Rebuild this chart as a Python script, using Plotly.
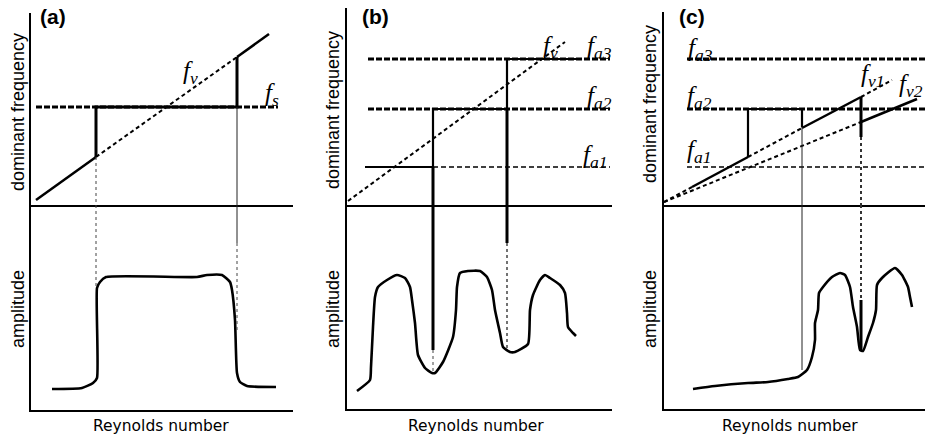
import plotly.graph_objects as go

W, H = 925, 439

# ---------------- data (arbitrary units) ----------------
# Panel (a)
a_fv_re = [5, 65, 206, 238]
a_fv = [5, 48, 148, 171]
a_fv_style = ["solid", "dash", "solid"]
a_fs_re = [5, 247]
a_fs = [98, 98]
a_step_re = [65, 65, 206, 206]
a_step_f = [48, 98, 98, 148]
a_amp_re = [21, 51, 62, 66, 66, 69, 75, 166, 176, 191, 199, 201, 204, 206, 209, 216, 245]
a_amp = [21, 22, 27, 32, 122, 128, 133, 133, 135, 135, 128, 120, 90, 37, 28, 24, 23]

# Panel (b)
b_fv_re = [1, 218]
b_fv = [4, 163]
b_fa3_re = [21, 263]
b_fa3 = [146, 146]
b_fa2_re = [21, 263]
b_fa2 = [96, 96]
b_fa1_re = [86, 263]
b_fa1 = [38, 38]
b_step_re = [18, 86, 86, 160, 160, 230]
b_step_f = [38, 38, 96, 96, 146, 146]
b_amp_re = [10, 23, 24, 26, 28, 31, 40, 50, 58, 63, 65, 68, 71, 78, 85, 88, 96, 106, 109, 110,
            113, 121, 133, 140, 145, 148, 153, 156, 163, 168, 181, 183, 186, 193, 198, 203, 213,
            218, 220, 221, 226, 229]
b_amp = [18, 29, 42, 82, 112, 122, 129, 134, 131, 122, 109, 86, 54, 41, 36, 36, 47, 72, 99, 122,
         136, 138, 138, 132, 119, 99, 76, 62, 57, 57, 65, 99, 114, 129, 134, 131, 124,
         116, 96, 82, 76, 73]

# Panel (c)
c_fv1_re = [0, 28, 84, 138, 197, 228]
c_fv1 = [3, 18, 48, 77, 108, 125]
c_fv1_style = ["dash", "solid", "dash", "solid", "dash"]
c_fv2_re = [0, 197, 253]
c_fv2 = [3, 83, 106]
c_fv2_style = ["dash", "solid"]
c_fa3_re = [23, 261]
c_fa3 = [146, 146]
c_fa2_re = [23, 261]
c_fa2 = [96, 96]
c_fa1_re = [23, 261]
c_fa1 = [38, 38]
c_step_re = [84, 84, 138, 138]
c_step_f = [48, 96, 96, 78]
c_amp_re = [29, 51, 84, 104, 124, 134, 143, 148, 151, 151, 154, 155, 159, 168, 176, 181, 186,
            189, 193, 196, 199, 204, 209, 212, 213, 218, 231, 238, 244, 246, 248]
c_amp = [20, 23, 26, 27, 30, 32, 39, 52, 69, 86, 99, 116, 122, 132, 136, 134, 122,
         102, 82, 59, 58, 72, 86, 99, 124, 131, 141, 134, 122, 112, 102]

# vertical connector segments: (panel, row, Re, from, to, width, dash, colour)
connectors = [
    ("a", "f", 65, 48, 0, 1, "dot", "#444"),
    ("a", "amp", 65, 205, 122, 1, "dot", "#444"),
    ("a", "f", 206, 98, 0, 1, "solid", "#222"),
    ("a", "amp", 206, 205, 167, 1, "solid", "#222"),
    ("a", "amp", 206, 167, 77, 1, "dot", "#444"),
    ("b", "f", 86, 38, 0, 3, "solid", "black"),
    ("b", "amp", 86, 204, 59, 3, "solid", "black"),
    ("b", "amp", 86, 59, 36, 1, "dot", "#444"),
    ("b", "f", 160, 96, 0, 3, "solid", "black"),
    ("b", "amp", 160, 204, 166, 3, "solid", "black"),
    ("b", "amp", 160, 166, 59, 1.5, "dot", "#444"),
    ("c", "f", 138, 78, 0, 1, "solid", "#222"),
    ("c", "amp", 138, 204, 39, 1, "solid", "#222"),
    ("c", "f", 197, 108, 68, 3, "solid", "black"),
    ("c", "f", 197, 68, 0, 2, "dot", "#333"),
    ("c", "amp", 197, 204, 109, 2, "dot", "#333"),
    ("c", "amp", 197, 109, 59, 3, "solid", "black"),
]

# symbol labels: (panel, Re, freq, base, subscript)
symbols = [
    ("a", 159, 132, "f", "v"),
    ("a", 241, 110, "f", "s"),
    ("b", 203, 157, "f", "v"),
    ("b", 252, 157, "f", "a3"),
    ("b", 252, 107, "f", "a2"),
    ("b", 248, 49, "f", "a1"),
    ("c", 36, 155, "f", "a3"),
    ("c", 35, 107, "f", "a2"),
    ("c", 35, 54, "f", "a1"),
    ("c", 208, 129, "f", "v1"),
    ("c", 247, 119, "f", "v2"),
]

# ---------------- layout geometry ----------------
panels = {
    # left px, right px, top px, mid px, bottom px
    "a": (31, 293, 13, 205, 410),
    "b": (347, 612, 8, 205, 409),
    "c": (664, 925, 12, 205, 409),
}
axis_ids = {"a": (1, 2), "b": (3, 4), "c": (5, 6)}

fig = go.Figure()
layout = {}


def ax_name(i):
    return "" if i == 1 else str(i)


for p, (l, r, t, m, b) in panels.items():
    it, ib = axis_ids[p]
    xd = [l / W, min(r / W, 1.0)]
    common = dict(showline=True, linecolor="black", linewidth=2.2, showgrid=False,
                  zeroline=False, showticklabels=False, ticks="", fixedrange=True)
    layout["xaxis" + ax_name(it)] = dict(domain=xd, range=[0, r - l], anchor="y" + ax_name(it), **common)
    layout["yaxis" + ax_name(it)] = dict(domain=[1 - m / H, 1 - t / H], range=[0, m - t],
                                        anchor="x" + ax_name(it), **common)
    layout["xaxis" + ax_name(ib)] = dict(domain=xd, range=[0, r - l], anchor="y" + ax_name(ib), **common)
    layout["yaxis" + ax_name(ib)] = dict(domain=[1 - b / H, 1 - m / H], range=[0, b - m],
                                        anchor="x" + ax_name(ib), **common)


def axes(p, row):
    it, ib = axis_ids[p]
    i = it if row == "f" else ib
    return "x" + ax_name(i), "y" + ax_name(i)


def line(p, row, x, y, width=2, dash="solid", color="black", shape="linear"):
    xa, ya = axes(p, row)
    ln = dict(color=color, width=width, dash=dash, shape=shape)
    if shape == "spline":
        ln["smoothing"] = 0.5
    fig.add_trace(go.Scatter(x=x, y=y, mode="lines", xaxis=xa, yaxis=ya,
                             line=ln, hoverinfo="skip", showlegend=False))


def segmented(p, xs, ys, styles, width_solid=2.5, width_dash=2):
    for i, st in enumerate(styles):
        if st == "solid":
            line(p, "f", xs[i:i + 2], ys[i:i + 2], width_solid, "solid")
        else:
            line(p, "f", xs[i:i + 2], ys[i:i + 2], width_dash, "4px,3px")


THICK_DASH = "6px,2px"
THIN_DASH = "5px,3px"

# panel (a)
line("a", "f", a_fs_re, a_fs, 3.2, THICK_DASH)
segmented("a", a_fv_re, a_fv, a_fv_style)
line("a", "f", a_step_re, a_step_f, 3)
line("a", "amp", a_amp_re, a_amp, 2.6, shape="spline")

# panel (b)
line("b", "f", b_fa3_re, b_fa3, 3.2, THICK_DASH)
line("b", "f", b_fa2_re, b_fa2, 3.2, THICK_DASH)
line("b", "f", b_fa1_re, b_fa1, 1.3, THIN_DASH)
line("b", "f", b_step_re, b_step_f, 2.2)
line("b", "f", b_fv_re, b_fv, 2, "4px,3px")
line("b", "amp", b_amp_re, b_amp, 2.6, shape="spline")

# panel (c)
line("c", "f", c_fa3_re, c_fa3, 3.2, THICK_DASH)
line("c", "f", c_fa2_re, c_fa2, 3.2, THICK_DASH)
line("c", "f", c_fa1_re, c_fa1, 1.3, THIN_DASH)
line("c", "f", c_step_re, c_step_f, 2.2)
segmented("c", c_fv1_re, c_fv1, c_fv1_style)
segmented("c", c_fv2_re, c_fv2, c_fv2_style)
line("c", "amp", c_amp_re, c_amp, 2.6, shape="spline")

for (p, row, x, y0, y1, w, d, col) in connectors:
    line(p, row, [x, x], [y0, y1], w, d, col)

# ---------------- text ----------------
annotations = []

for (p, x, y, base, sub) in symbols:
    xa, ya = axes(p, "f")
    annotations.append(dict(x=x, y=y, xref=xa, yref=ya, showarrow=False,
                            text="<i>%s</i><sub><i>%s</i></sub>" % (base, sub),
                            font=dict(family="Liberation Serif", size=25, color="black"),
                            xanchor="center", yanchor="middle"))


def ptext(xpx, ypx, text, size, family, angle=0, bold=False, xanchor="center"):
    annotations.append(dict(x=xpx / W, y=1 - ypx / H, xref="paper", yref="paper",
                            showarrow=False, text=("<b>%s</b>" % text) if bold else text,
                            textangle=angle, xanchor=xanchor, yanchor="middle",
                            font=dict(family=family, size=size, color="black")))


SANS = "Liberation Sans"
for lbl, xl in [("(a)", 38), ("(b)", 360), ("(c)", 677)]:
    ptext(xl, 17, lbl, 21, SANS, bold=True, xanchor="left")
for xc, yf in [(18, 112), (333, 110), (650, 104)]:
    ptext(xc, yf, "dominant frequency", 18, SANS, angle=-90)
    ptext(xc, 309, "amplitude", 18, SANS, angle=-90)
for xc in [161, 476, 790]:
    ptext(xc, 426, "Reynolds number", 15.5, "DejaVu Sans")

layout.update(dict(width=W, height=H, margin=dict(l=0, r=0, t=0, b=0),
                   plot_bgcolor="white", paper_bgcolor="white",
                   showlegend=False, annotations=annotations))
fig.update_layout(**layout)
fig.write_html("out.html")
